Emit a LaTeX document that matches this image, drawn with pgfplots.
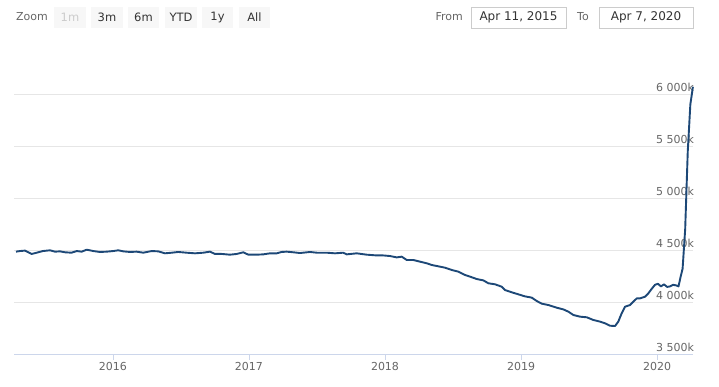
\documentclass[border=0pt]{standalone}
\usepackage{fontspec}
\setmainfont{DejaVu Sans}
\usepackage{pgfplots}
\pgfplotsset{compat=1.18}
\definecolor{linec}{HTML}{1D4877}
\definecolor{gridc}{HTML}{E6E6E6}
\definecolor{axisc}{HTML}{CCD6EB}
\definecolor{labc}{HTML}{666666}
\definecolor{btnfill}{HTML}{F7F7F7}
\definecolor{txtc}{HTML}{333333}
\definecolor{boxc}{HTML}{CCCCCC}
\begin{document}
\begin{tikzpicture}[x=1pt,y=1pt]
\useasboundingbox (0,0) rectangle (719,387);
% range selector
\node[anchor=west,inner sep=0pt,text=labc,font=\fontsize{11}{13}\selectfont] at (16,370) {Zoom};
\foreach \a/\b/\t/\c in {54/86/1m/boxc,91/123/3m/txtc,128/159/6m/txtc,165/197/YTD/txtc,202/233/1y/txtc,239/270/All/txtc}{
  \fill[btnfill] (\a,359) rectangle (\b,380);
  \node[inner sep=0pt,text=\c,font=\fontsize{11.5}{13}\selectfont] at ({(\a+\b)/2},369.5) {\t};
}
\node[anchor=east,inner sep=0pt,text=labc,font=\fontsize{11}{13}\selectfont] at (463,370) {From};
\draw[boxc,line width=0.8pt,fill=white] (471,359) rectangle (566,380);
\node[inner sep=0pt,text=txtc,font=\fontsize{12}{14}\selectfont] at (518.5,369.5) {Apr 11, 2015};
\node[anchor=west,inner sep=0pt,text=labc,font=\fontsize{11}{13}\selectfont] at (577,370) {To};
\draw[boxc,line width=0.8pt,fill=white] (599,359) rectangle (693,380);
\node[inner sep=0pt,text=txtc,font=\fontsize{12}{14}\selectfont] at (646,369.5) {Apr 7, 2020};
\begin{axis}[
  at={(14.5pt,33pt)}, anchor=south west,
  scale only axis, width=678.7pt, height=292pt,
  xmin=2015.276, xmax=2020.266,
  ymin=3500, ymax=6307.7,
  axis x line*=bottom, axis y line*=right,
  x axis line style={draw=axisc,line width=0.8pt,-},
  y axis line style={draw=none},
  xtick={2016,2017,2018,2019,2020},
  xticklabels={2016,2017,2018,2019,2020},
  xtick style={draw=axisc,line width=0.8pt},
  tick align=outside, major tick length=6pt,
  xticklabel style={text=labc,font=\fontsize{11}{13}\selectfont,inner sep=0pt,anchor=center,yshift=-6pt},
  ytick={3500,4000,4500,5000,5500,6000},
  yticklabels={3 500k,4 000k,4 500k,5 000k,5 500k,6 000k},
  ytick style={draw=none},
  yticklabel style={text=labc,font=\fontsize{11}{13}\selectfont,inner sep=0pt,anchor=south east,yshift=2.5pt,xshift=-5pt},
  ymajorgrids, grid style={draw=gridc,line width=0.8pt},
  clip=false,
]
\addplot[linec, line width=1.9pt, line join=round, no markers] table {
2015.287 4484
2015.316 4490
2015.353 4494
2015.402 4462
2015.439 4474
2015.485 4490
2015.537 4497
2015.574 4484
2015.610 4487
2015.647 4478
2015.696 4474
2015.733 4490
2015.770 4484
2015.807 4503
2015.855 4490
2015.904 4481
2015.954 4484
2016.002 4490
2016.039 4497
2016.076 4487
2016.125 4481
2016.174 4484
2016.223 4474
2016.285 4490
2016.333 4487
2016.382 4468
2016.432 4474
2016.480 4481
2016.542 4474
2016.603 4468
2016.664 4474
2016.713 4484
2016.750 4462
2016.799 4462
2016.860 4455
2016.910 4462
2016.958 4478
2016.995 4455
2017.057 4455
2017.105 4458
2017.154 4468
2017.204 4468
2017.240 4481
2017.277 4484
2017.326 4478
2017.375 4471
2017.449 4481
2017.498 4474
2017.571 4474
2017.632 4468
2017.693 4474
2017.718 4458
2017.792 4468
2017.865 4455
2017.926 4449
2017.976 4449
2018.037 4442
2018.086 4429
2018.123 4436
2018.160 4404
2018.208 4404
2018.257 4388
2018.307 4372
2018.343 4356
2018.392 4343
2018.441 4330
2018.490 4308
2018.539 4292
2018.588 4260
2018.625 4244
2018.674 4221
2018.723 4208
2018.760 4180
2018.809 4170
2018.858 4147
2018.882 4115
2018.932 4093
2018.980 4074
2019.029 4054
2019.079 4042
2019.115 4010
2019.152 3984
2019.201 3971
2019.263 3945
2019.311 3929
2019.348 3907
2019.385 3875
2019.434 3859
2019.483 3853
2019.532 3827
2019.581 3811
2019.618 3795
2019.654 3772
2019.691 3769
2019.715 3811
2019.740 3891
2019.765 3955
2019.801 3971
2019.826 4003
2019.851 4035
2019.875 4035
2019.912 4051
2019.936 4083
2019.963 4130
2019.985 4165
2020.007 4175
2020.029 4150
2020.051 4170
2020.074 4145
2020.096 4150
2020.118 4165
2020.140 4160
2020.158 4150
2020.173 4240
2020.188 4320
2020.207 4700
2020.226 5450
2020.245 5900
2020.264 6070
};
\end{axis}
\end{tikzpicture}
\end{document}
